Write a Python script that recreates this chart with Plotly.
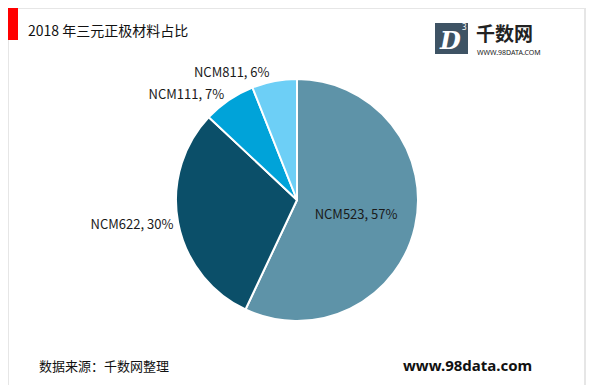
import plotly.graph_objects as go

labels = ["NCM523", "NCM622", "NCM111", "NCM811"]
values = [57, 30, 7, 6]
colors = ["#5E93A8", "#0B4F69", "#00A3D9", "#6DCFF6"]
positions = ["inside", "outside", "outside", "outside"]

W, H = 600, 385
cx, cy, r = 289, 192, 121

fig = go.Figure()
fig.add_trace(go.Pie(
    labels=labels, values=values, sort=False, direction="clockwise", rotation=0,
    marker=dict(colors=colors, line=dict(color="white", width=2)),
    texttemplate="%{label}, %{value}%", textposition=positions,
    textfont=dict(family="Noto Sans CJK SC", size=13, color="#1a1a1a"),
    insidetextorientation="horizontal", showlegend=False, hoverinfo="skip",
    domain=dict(x=[(cx - r) / W, (cx + r) / W], y=[(H - cy - r) / H, (H - cy + r) / H]),
))

shapes = [
    dict(type="rect", xref="paper", yref="paper", x0=0, y0=(H-383)/H, x1=577/W, y1=1,
         line=dict(color="#e6e6e6", width=2), fillcolor="rgba(0,0,0,0)"),
    dict(type="rect", xref="paper", yref="paper", x0=0, y0=1-32/H, x1=10/W, y1=1,
         line=dict(width=0), fillcolor="#FF0000"),
    dict(type="rect", xref="paper", yref="paper", x0=427/W, y0=1-46/H, x1=460/W, y1=1-15/H,
         line=dict(width=0), fillcolor="#3E5364"),
]
ann = [
    dict(text="2018 年三元正极材料占比", x=18/W, y=1-22/H, xanchor="left", yanchor="middle",
         font=dict(family="Noto Sans CJK SC", size=14, color="#111")),
    dict(text="数据来源：千数网整理", x=29/W, y=1-357/H, xanchor="left", yanchor="middle",
         font=dict(family="Noto Sans CJK SC", size=13, color="#111")),
    dict(text="<b>www.98data.com</b>", x=459/W, y=1-357/H, xanchor="center", yanchor="middle",
         font=dict(family="Noto Sans", size=15, color="#111")),
    dict(text="<b><i>D</i></b>", x=442/W, y=1-32/H, xanchor="center", yanchor="middle",
         font=dict(family="DejaVu Serif", size=24, color="white")),
    dict(text="3", x=456/W, y=1-18/H, xanchor="center", yanchor="middle",
         font=dict(family="Noto Sans", size=8, color="white")),
    dict(text="<b>千数网</b>", x=496/W, y=1-24/H, xanchor="center", yanchor="middle",
         font=dict(family="Noto Sans CJK SC", size=19, color="#222")),
    dict(text="WWW.98DATA.COM", x=501/W, y=1-44/H, xanchor="center", yanchor="middle",
         font=dict(family="Noto Sans", size=7, color="#222")),
]
for a in ann:
    a.update(xref="paper", yref="paper", showarrow=False)

fig.update_layout(
    width=W, height=H, margin=dict(l=0, r=0, t=0, b=0),
    paper_bgcolor="white", plot_bgcolor="white",
    shapes=shapes, annotations=ann,
)
fig.write_html("out.html")
